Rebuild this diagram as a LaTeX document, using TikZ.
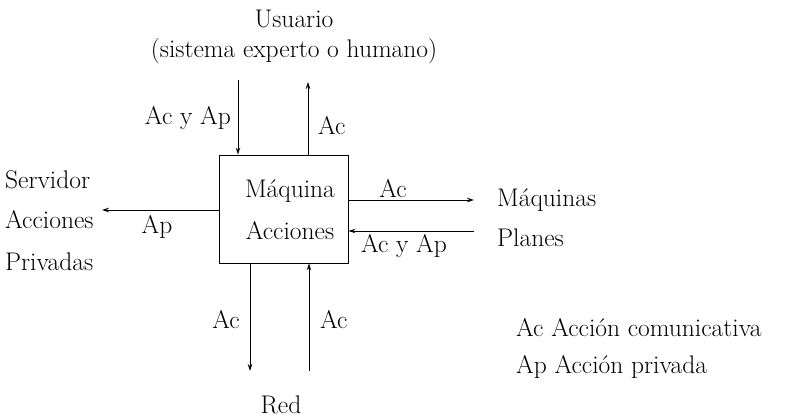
\documentclass[tikz,border=0pt]{standalone}
\usetikzlibrary{arrows.meta}
\begin{document}
\begin{tikzpicture}[x=1pt,y=-1pt,
  txt/.style={font=\fontsize{25.5}{30}\selectfont, inner sep=0pt},
  conn/.style={line width=0.9pt, -{Stealth[length=7pt,width=4.5pt]}}]
\useasboundingbox (0,0) rectangle (788,419);
% central box
\node[draw, line width=0.9pt, minimum width=129pt, minimum height=108pt, inner sep=0pt] (box) at (283.5,209) {};
\node[txt] (m1) at (290,191) {Máquina};
\node[txt] (m2) at (290,231) {Acciones};
% top
\node[txt] (usr) at (294,19) {Usuario};
\node[txt] (usr2) at (294,51) {(sistema experto o humano)};
\coordinate (t1) at (238,80);
\coordinate (t2) at (308,82);
\draw[conn] (t1) -- (t1 |- box.north);
\draw[conn] (t2 |- box.north) -- (t2);
\node[txt, anchor=east] (l1) at (231,118) {Ac y Ap};
\node[txt, anchor=west] (l2) at (318,126) {Ac};
% left
\coordinate (lp) at (102,210);
\draw[conn] (box.west |- lp) -- (lp);
\node[txt] (lap) at (157,227) {Ap};
\node[txt, anchor=west] (s1) at (5,180) {Servidor};
\node[txt, anchor=west] (s2) at (5,220) {Acciones};
\node[txt, anchor=west] (s3) at (5,262) {Privadas};
% right
\coordinate (r1) at (474,200);
\coordinate (r2) at (474,231);
\draw[conn] (box.east |- r1) -- (r1);
\draw[conn] (r2) -- (box.east |- r2);
\node[txt] (rac) at (393,189) {Ac};
\node[txt] (racap) at (404,246) {Ac y Ap};
\node[txt, anchor=west] (mp1) at (497,200) {Máquinas};
\node[txt, anchor=west] (mp2) at (497,238) {Planes};
% bottom
\coordinate (b1) at (250,371);
\coordinate (b2) at (309,371);
\draw[conn] (b1 |- box.south) -- (b1);
\draw[conn] (b2) -- (b2 |- box.south);
\node[txt, anchor=east] (bl) at (240,320) {Ac};
\node[txt, anchor=west] (br) at (320,320) {Ac};
\node[txt] (red) at (281,405) {Red};
% legend
\node[txt, anchor=west] (lg1) at (516,328) {Ac Acción comunicativa};
\node[txt, anchor=west] (lg2) at (516,367) {Ap Acción privada};
\end{tikzpicture}
\end{document}
